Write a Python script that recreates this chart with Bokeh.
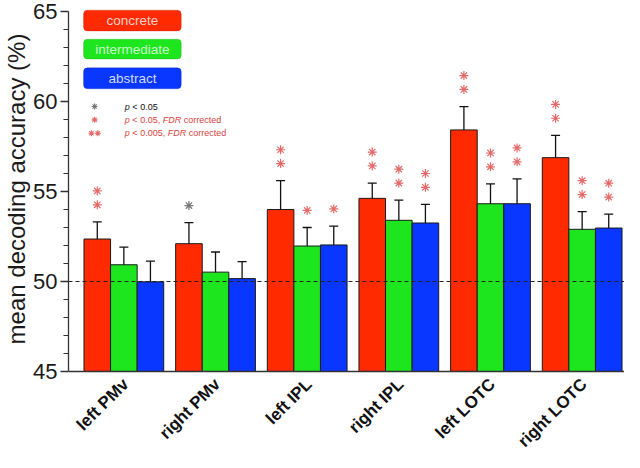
import numpy as np
from bokeh.plotting import figure
from bokeh.models import (ColumnDataSource, Whisker, TeeHead, Span, FixedTicker,
                          Range1d, BoxAnnotation)
from bokeh.core.properties import value
from bokeh.embed import file_html
from bokeh.resources import INLINE

# ---------------- data ----------------
regions = ["left PMv", "right PMv", "left IPL", "right IPL", "left LOTC", "right LOTC"]
conditions = ["concrete", "intermediate", "abstract"]

concrete_mean = [52.36, 52.10, 54.00, 54.62, 58.42, 56.88]
intermediate_mean = [50.93, 50.52, 51.97, 53.40, 54.32, 52.90]
abstract_mean = [49.98, 50.16, 52.03, 53.25, 54.32, 52.97]

concrete_sem = [0.95, 1.17, 1.60, 0.85, 1.30, 1.24]
intermediate_sem = [0.98, 1.12, 1.03, 1.12, 1.10, 0.98]
abstract_sem = [1.15, 0.94, 1.05, 1.03, 1.38, 0.77]

# significance: "" none, "u" p<0.05 uncorrected, "*" p<0.05 FDR, "**" p<0.005 FDR
concrete_sig = ["**", "u", "**", "**", "**", "**"]
intermediate_sig = ["", "", "*", "**", "**", "**"]
abstract_sig = ["", "", "*", "**", "**", "**"]

chance = 50
y_major = [45, 50, 55, 60, 65]
y_minor = [v for v in range(45, 66) if v % 5 != 0]
y_title = "mean decoding accuracy (%)"

colors = ["#ff2a00", "#1ee61e", "#0a37ff"]
text_colors = ["#ffd0c8", "#c8ffc8", "#cfdcff"]
border_colors = ["#b01800", "#14a014", "#0020a8"]
star_red = "#e46a6a"
star_gray = "#777777"

means = [concrete_mean, intermediate_mean, abstract_mean]
sems = [concrete_sem, intermediate_sem, abstract_sem]
sigs = [concrete_sig, intermediate_sig, abstract_sig]

FONT = "Liberation Sans"

p = figure(width=624, height=452, output_backend="svg", toolbar_location=None,
           x_range=Range1d(-0.604, 5.462), y_range=Range1d(40.5, 65.333),
           min_border_top=5, min_border_bottom=0, min_border_right=0,
           min_border_left=68)
p.outline_line_color = None
p.xgrid.visible = False
p.ygrid.visible = False
p.xaxis.visible = False
p.background_fill_color = "white"
p.border_fill_color = "white"

bw = 0.29
offsets = [-bw, 0.0, bw]
gx = np.arange(len(regions))

for ci in range(3):
    xs = gx + offsets[ci]
    m = np.array(means[ci])
    s = np.array(sems[ci])
    src = ColumnDataSource(dict(x=xs, top=m, upper=m + s, lower=m - s))
    p.vbar(x="x", top="top", bottom=45, width=bw, source=src,
           fill_color=colors[ci], line_color="#1a1a1a", line_width=1)
    w = Whisker(base="x", upper="upper", lower="lower", source=src,
                line_color="#111111", line_width=1.3,
                upper_head=TeeHead(size=9, line_color="#111111", line_width=1.3),
                lower_head=TeeHead(size=9, line_color="#111111", line_width=1.3))
    p.add_layout(w)

    # significance stars above error bars
    sx_r, sy_r, sx_g, sy_g = [], [], [], []
    for i, sg in enumerate(sigs[ci]):
        base = m[i] + s[i]
        if sg == "**":
            sx_r += [xs[i], xs[i]]
            sy_r += [base + 0.95, base + 1.72]
        elif sg == "*":
            sx_r.append(xs[i]); sy_r.append(base + 0.95)
        elif sg == "u":
            sx_g.append(xs[i]); sy_g.append(base + 0.95)
    if sx_r:
        p.scatter(sx_r, sy_r, marker="asterisk", size=9, line_color=star_red, line_width=1.2)
    if sx_g:
        p.scatter(sx_g, sy_g, marker="asterisk", size=9, line_color=star_gray, line_width=1.2)

p.add_layout(Span(location=chance, dimension="width", line_color="#222222",
                  line_dash="4 3", line_width=1.2))
# x axis line (base of the bars)
p.add_layout(Span(location=45, dimension="width", line_color="#333333", line_width=1.3))

# ---------------- y axis ----------------
ya = p.yaxis[0]
ya.ticker = FixedTicker(ticks=y_major, minor_ticks=y_minor)
ya.bounds = (45, 65)
# non-breaking spaces before the title shift it up to centre on the 45-65 span
ya.axis_label = "\u00a0" * 12 + y_title
ya.axis_label_text_font = FONT
ya.axis_label_text_font_size = "24px"
ya.axis_label_text_font_style = "normal"
ya.axis_label_text_color = "#1a1a1a"
ya.axis_label_standoff = 0
ya.major_label_text_font = FONT
ya.major_label_text_font_size = "22px"
ya.major_label_text_color = "#1a1a1a"
ya.major_label_standoff = 3
ya.axis_line_color = "#333333"
ya.axis_line_width = 1.3
ya.major_tick_line_color = "#333333"
ya.major_tick_line_width = 1.3
ya.major_tick_out = 8
ya.major_tick_in = 0
ya.minor_tick_line_color = "#333333"
ya.minor_tick_line_width = 1.2
ya.minor_tick_out = 5
ya.minor_tick_in = 0

# rotated category labels (drawn below the bar base)
lab_src = ColumnDataSource(dict(x=gx + 0.02, y=np.full(len(regions), 44.45), text=regions))
p.text(x="x", y="y", text="text", source=lab_src, angle=np.pi / 4,
       text_align="right", text_baseline="middle", text_font=value(FONT),
       text_font_size="17px", text_font_style="bold", text_color="#111111")

# ---------------- legend (condition boxes) ----------------
box_left, box_right = -0.44, 0.626
box_tops = [65.07, 63.46, 61.87]
box_bottoms = [63.92, 62.36, 60.71]
for ci, name in enumerate(conditions):
    t, b = box_tops[ci], box_bottoms[ci]
    p.add_layout(BoxAnnotation(left=box_left, right=box_right, top=t, bottom=b,
                               fill_color=colors[ci], fill_alpha=1.0,
                               line_color=border_colors[ci], line_width=1,
                               border_radius=4, level="underlay"))
    p.text(x=[(box_left + box_right) / 2], y=[(t + b) / 2], text=[name],
           text_font=value(FONT), text_font_size="13.5px",
           text_color=text_colors[ci], text_align="center", text_baseline="middle")

# ---------------- legend (significance) ----------------
star_x = -0.319
txt_x = 0.011
rows_y = [59.72, 58.98, 58.24]
p.scatter([star_x], [rows_y[0]], marker="asterisk", size=6, line_color=star_gray, line_width=1.1)
p.scatter([star_x], [rows_y[1]], marker="asterisk", size=6, line_color=star_red, line_width=1.1)
p.scatter([star_x - 0.035, star_x + 0.035], [rows_y[2], rows_y[2]], marker="asterisk",
          size=6, line_color=star_red, line_width=1.1)

legend_rows = [
    [("p", "italic", 0), ("< 0.05", "normal", 7.5)],
    [("p", "italic", 0), ("< 0.05,", "normal", 7.5), ("FDR", "italic", 37.8),
     ("corrected", "normal", 58.8)],
    [("p", "italic", 0), ("< 0.005,", "normal", 7.5), ("FDR", "italic", 42.8),
     ("corrected", "normal", 63.8)],
]
row_colors = ["#111111", "#d94040", "#d94040"]
for ri, row in enumerate(legend_rows):
    for txt, style, off in row:
        p.text(x=[txt_x], y=[rows_y[ri]], text=[txt], x_offset=off,
               text_font=value(FONT), text_font_size="9px", text_font_style=style,
               text_color=row_colors[ri], text_align="left", text_baseline="middle")

open("out.html", "w").write(file_html(p, INLINE))
